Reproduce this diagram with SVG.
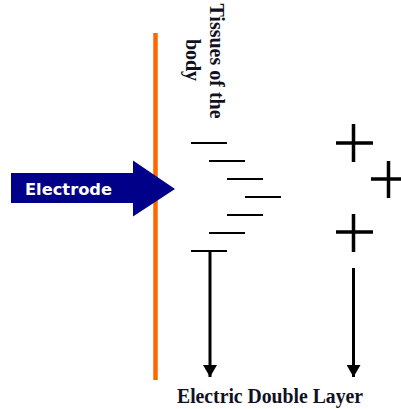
<svg xmlns="http://www.w3.org/2000/svg" width="401" height="409" viewBox="0 0 401 409">
<defs>
<style>
.serif{font-family:"Liberation Serif","Times New Roman",serif;font-weight:bold;fill:#111122}
.dash{stroke:#000;stroke-width:2;fill:none}
.plus{stroke:#000;stroke-width:3.5;fill:none}
.conn{stroke:#000;stroke-width:3;fill:none}
</style>
<marker id="ah" markerUnits="userSpaceOnUse" markerWidth="16" markerHeight="14" refX="12" refY="7" orient="auto">
<path d="M0,0 L12,7 L0,14 Z" fill="#000"/>
</marker>
</defs>
<rect width="401" height="409" fill="#fff"/>
<g id="electrode-wall">
<line x1="155.5" y1="33" x2="155.5" y2="380" stroke="#FF6600" stroke-width="4.5"/>
</g>
<g id="tissues-label">
<text class="serif" font-size="20" text-anchor="middle" transform="translate(210,61) rotate(90)">Tissues of the</text>
<text class="serif" font-size="20" text-anchor="middle" transform="translate(186,60) rotate(90)">body</text>
</g>
<g id="electrode">
<path d="M11,173 H133 V160.5 L175,189 L133,216.5 V203 H11 Z" fill="#000088"/>
<text x="25" y="195" font-family="DejaVu Sans, sans-serif" font-weight="bold" font-size="16" fill="#fff" textLength="87" lengthAdjust="spacingAndGlyphs">Electrode</text>
</g>
<g id="negative-charges">
<line class="dash" x1="191" y1="143" x2="227" y2="143"/>
<line class="dash" x1="209" y1="161" x2="245" y2="161"/>
<line class="dash" x1="227" y1="179" x2="263" y2="179"/>
<line class="dash" x1="245" y1="197" x2="281" y2="197"/>
<line class="dash" x1="227" y1="215" x2="263" y2="215"/>
<line class="dash" x1="209" y1="233" x2="245" y2="233"/>
<line class="dash" x1="191" y1="251" x2="227" y2="251"/>
</g>
<g id="positive-charges">
<path class="plus" d="M336,143 H373 M353.5,124 V162"/>
<path class="plus" d="M371,179 H402 M388.5,161 V198"/>
<path class="plus" d="M336,232 H373 M353.5,214 V252"/>
</g>
<g id="connectors">
<line class="conn" x1="210" y1="251" x2="210" y2="377" marker-end="url(#ah)"/>
<line class="conn" x1="353.5" y1="268" x2="353.5" y2="377" marker-end="url(#ah)"/>
</g>
<g id="layer-label">
<text class="serif" x="177" y="403" font-size="20" textLength="186" lengthAdjust="spacingAndGlyphs">Electric Double Layer</text>
</g>
</svg>
